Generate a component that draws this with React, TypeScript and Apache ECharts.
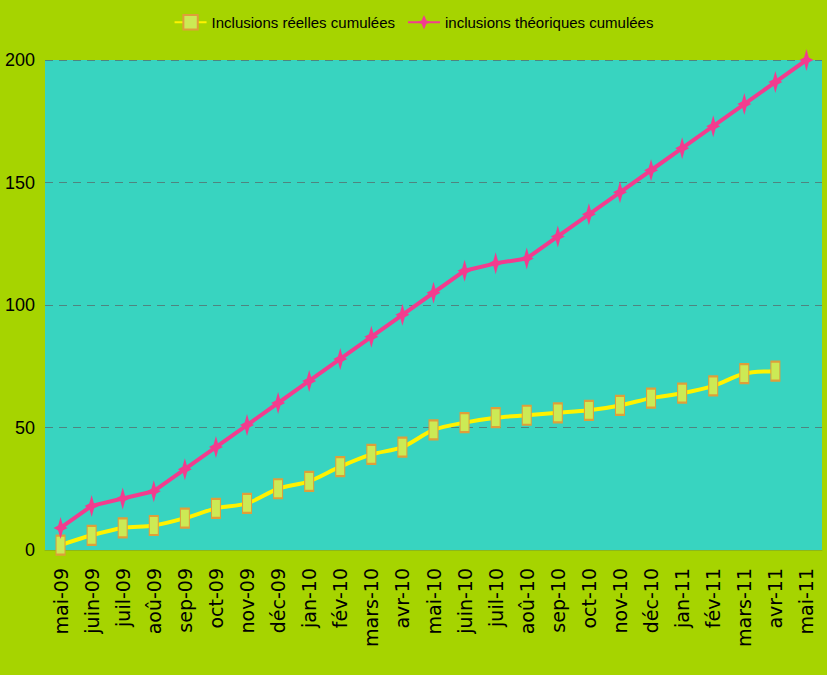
import React, { useEffect, useRef } from "react";
import * as echarts from "echarts";

const categories = [
  "mai-09", "juin-09", "juil-09", "aoû-09", "sep-09", "oct-09", "nov-09", "déc-09",
  "jan-10", "fév-10", "mars-10", "avr-10", "mai-10", "juin-10", "juil-10", "aoû-10",
  "sep-10", "oct-10", "nov-10", "déc-10", "jan-11", "fév-11", "mars-11", "avr-11", "mai-11",
];

const reelles = [2, 6, 9, 10, 13, 17, 19, 25, 28, 34, 39, 42, 49, 52, 54, 55, 56, 57, 59, 62, 64, 67, 72, 73, null];

const theoriques = [9, 18, 21, 24, 33, 42, 51, 60, 69, 78, 87, 96, 105, 114, 117, 119, 128, 137, 146, 155, 164, 173, 182, 191, 200];

const yTicks = { min: 0, max: 200, interval: 50 };

const seriesNames = ["Inclusions réelles cumulées", "inclusions théoriques cumulées"];

const starPath = "path://M0,-11 L2.2,-2.5 L6.5,0 L2.2,2.5 L0,11 L-2.2,2.5 L-6.5,0 L-2.2,-2.5 Z";

export default function App() {
  const ref = useRef<HTMLDivElement>(null);
  useEffect(() => {
    document.body.style.margin = "0";
    if (!ref.current) return;
    const chart = echarts.init(ref.current, null, { renderer: "svg" });
    chart.setOption({
      animation: false,
      backgroundColor: "#a6d400",
      legend: {
        top: 9,
        left: "center",
        itemGap: 12,
        itemWidth: 32,
        itemHeight: 18,
        textStyle: { fontFamily: "Liberation Sans", fontSize: 15, color: "#000" },
        data: seriesNames,
      },
      grid: {
        left: 45,
        right: 5,
        top: 60,
        bottom: 125,
        show: true,
        backgroundColor: "#38d4c0",
        borderWidth: 0,
      },
      xAxis: {
        type: "category",
        data: categories,
        boundaryGap: true,
        axisLine: { show: true, lineStyle: { color: "#8cb81a", width: 1 } },
        axisTick: { show: false },
        axisLabel: {
          rotate: 90,
          interval: 0,
          margin: 18,
          color: "#000",
          fontFamily: "DejaVu Sans",
          fontSize: 19,
        },
      },
      yAxis: {
        type: "value",
        min: yTicks.min,
        max: yTicks.max,
        interval: yTicks.interval,
        axisLine: { show: false },
        axisTick: { show: false },
        axisLabel: {
          margin: 10,
          color: "#000",
          fontFamily: "Liberation Sans",
          fontSize: 18,
        },
        splitLine: { lineStyle: { color: "#4f8580", type: [8, 6], width: 1 } },
      },
      series: [
        {
          name: seriesNames[0],
          type: "line",
          data: reelles,
          smooth: 0.3,
          symbol: "rect",
          symbolSize: [9, 19],
          lineStyle: { color: "#fff200", width: 4 },
          itemStyle: { color: "#ccea55", borderColor: "#df9e3a", borderWidth: 1.5 },
          z: 2,
        },
        {
          name: seriesNames[1],
          type: "line",
          data: theoriques,
          symbol: starPath,
          symbolSize: [14, 22],
          lineStyle: { color: "#f23c8e", width: 4 },
          itemStyle: { color: "#f23c8e" },
          z: 3,
        },
      ],
    });
    return () => chart.dispose();
  }, []);
  return <div ref={ref} style={{ width: 827, height: 675 }} />;
}
